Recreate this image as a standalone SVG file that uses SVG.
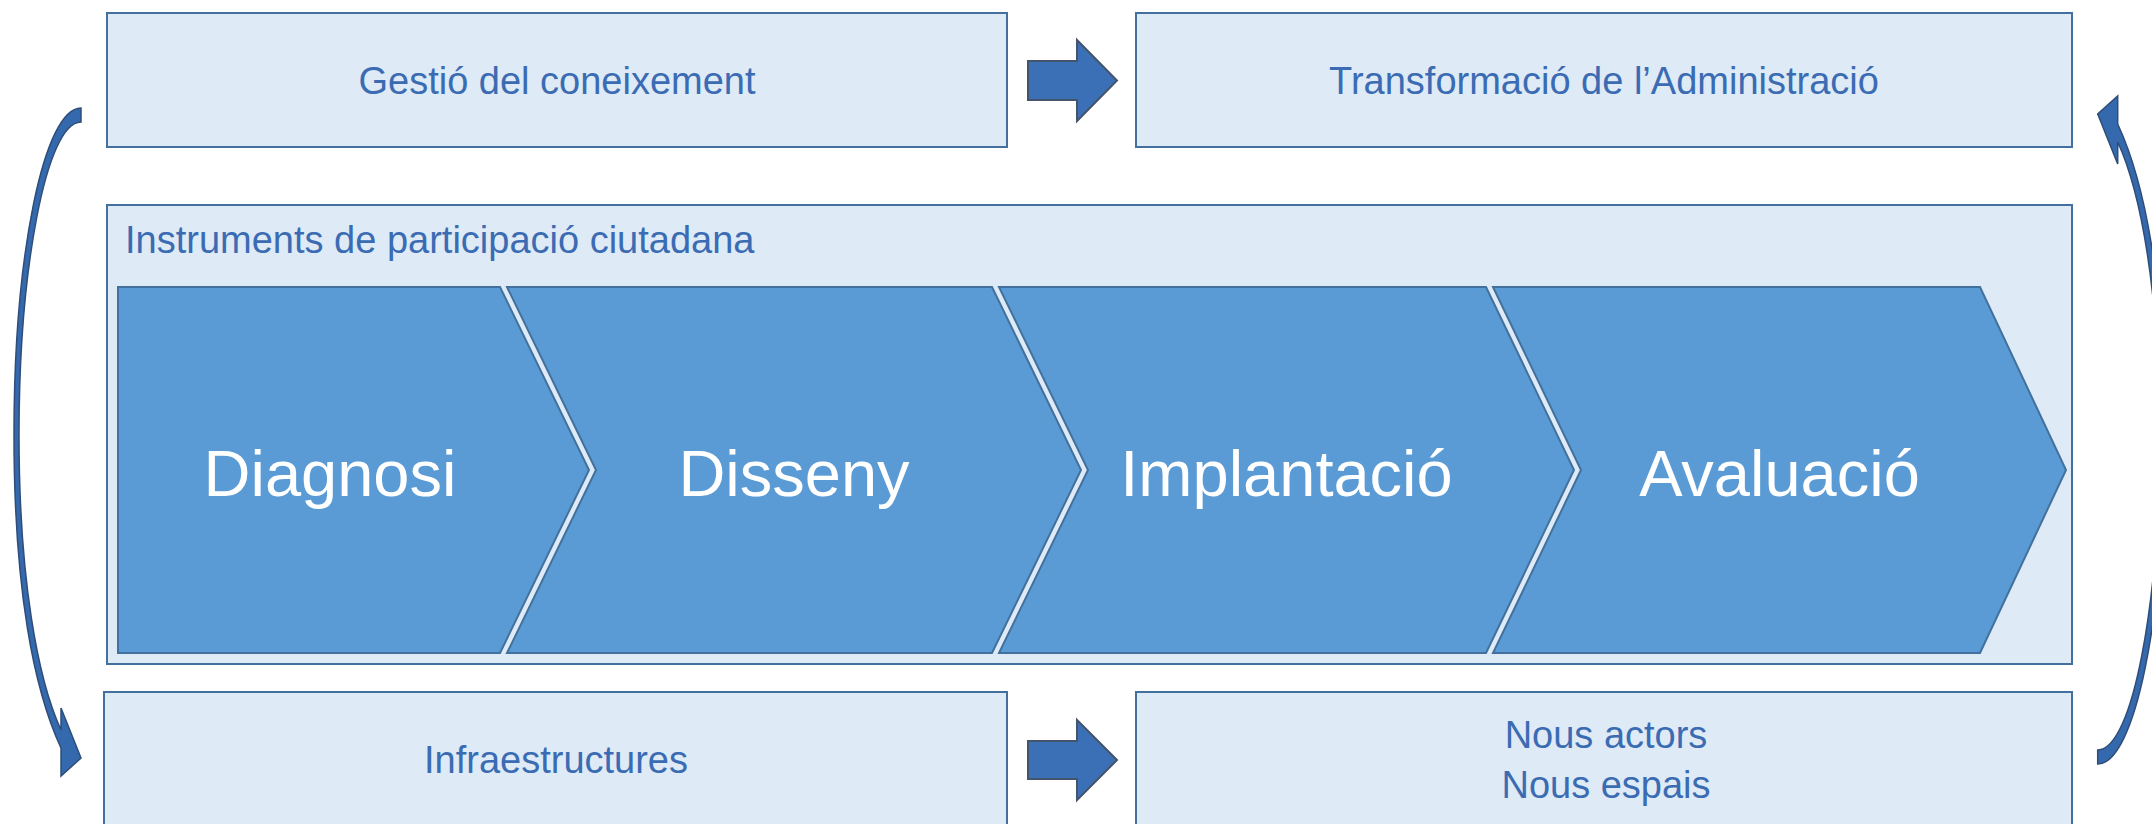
<svg xmlns="http://www.w3.org/2000/svg" width="2152" height="824" viewBox="0 0 2152 824">
<style>
.box{fill:#DEEAF6;stroke:#41719C;stroke-width:2}
.lbl{font-family:"Liberation Sans",Arial,sans-serif;font-size:38px;fill:#3B6CB3}
.chev{fill:#5B9BD5;stroke:#41719C;stroke-width:2;stroke-linejoin:miter}
.ctx{font-family:"Liberation Sans",Arial,sans-serif;font-size:65px;fill:#FFFFFF;text-anchor:middle}
.blk{fill:#3B70B7;stroke:#44546A;stroke-width:2;stroke-linejoin:miter}
.crv{fill:#3569AE;stroke:#2F4D78;stroke-width:1.5;stroke-linejoin:miter}
</style>
<rect width="2152" height="824" fill="#FFFFFF"/>
<g id="gestio">
<rect class="box" x="107" y="13" width="900" height="134"/>
<text class="lbl" x="557" y="93.5" text-anchor="middle">Gestió del coneixement</text>
</g>
<g id="transformacio">
<rect class="box" x="1136" y="13" width="936" height="134"/>
<text class="lbl" x="1604" y="93.5" text-anchor="middle">Transformació de l’Administració</text>
</g>
<g id="instruments">
<rect class="box" x="107" y="205" width="1965" height="459"/>
<text class="lbl" x="125" y="253">Instruments de participació ciutadana</text>
</g>
<g id="diagnosi">
<path class="chev" d="M118,287 L500,287 L589,470 L500,653 L118,653 Z"/>
<text class="ctx" x="330" y="496">Diagnosi</text>
</g>
<g id="disseny">
<path class="chev" d="M507,287 L992,287 L1081,470 L992,653 L507,653 L596,470 Z"/>
<text class="ctx" x="794" y="496">Disseny</text>
</g>
<g id="implantacio">
<path class="chev" d="M999,287 L1486,287 L1574,470 L1486,653 L999,653 L1088,470 Z"/>
<text class="ctx" x="1286.5" y="496">Implantació</text>
</g>
<g id="avaluacio">
<path class="chev" d="M1493,287 L1980,287 L2066,470 L1980,653 L1493,653 L1581,470 Z"/>
<text class="ctx" x="1779.5" y="496">Avaluació</text>
</g>
<g id="infraestructures">
<rect class="box" x="104" y="692" width="903" height="140"/>
<text class="lbl" x="556" y="773" text-anchor="middle">Infraestructures</text>
</g>
<g id="nous">
<rect class="box" x="1136" y="692" width="936" height="140"/>
<text class="lbl" x="1606" y="748" text-anchor="middle">Nous actors</text>
<text class="lbl" x="1606" y="798" text-anchor="middle">Nous espais</text>
</g>
<g id="connectors">
<path class="blk" d="M1028,61 L1077,61 L1077,40 L1117,80.5 L1077,121 L1077,100 L1028,100 Z"/>
<path class="blk" d="M1028,741 L1077,741 L1077,720 L1117,760 L1077,800 L1077,779 L1028,779 Z"/>
<path class="crv" d="M81,108 C44,108 14,254 14,435 C14,590 34,690 61,748 L61,776 L81,758 L61,708 L61,730 C38,680 19,580 19,435 C19,270 46,122 81,122 Z"/>
<path class="crv" transform="rotate(180 1089.35 436)" d="M81,108 C44,108 14,254 14,435 C14,590 34,690 61,748 L61,776 L81,758 L61,708 L61,730 C38,680 19,580 19,435 C19,270 46,122 81,122 Z"/>
</g>
</svg>
